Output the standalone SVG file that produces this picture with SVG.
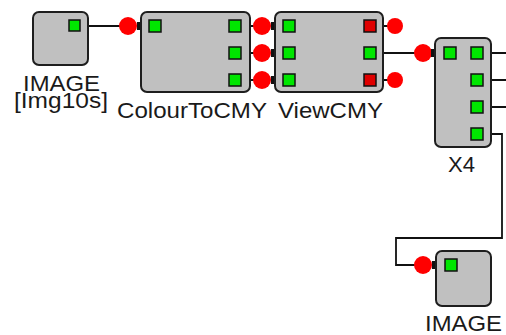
<svg xmlns="http://www.w3.org/2000/svg" width="506" height="335" viewBox="0 0 506 335">
<style>
.box{fill:#c0c0c0;stroke:#1e1e1e;stroke-width:2}
.pg{fill:#00e600;stroke:#111;stroke-width:1.5}
.pr{fill:#e00000;stroke:#111;stroke-width:1.5}
.dot{fill:#ff0000}
.tab{fill:#111}
.wire{fill:none;stroke:#111;stroke-width:1.8}
.lbl{font-family:"Liberation Sans",Arial,sans-serif;font-size:22px;fill:#1a1a1a}
</style>
<rect width="506" height="335" fill="#ffffff"/>
<g id="connectors">
<path class="wire" d="M88,26 H128"/>
<path class="wire" d="M250,26 H262 M250,53 H262 M250,80 H262"/>
<path class="wire" d="M383,26 H395 M383,80 H395"/>
<path class="wire" d="M383,53 H423"/>
<path class="wire" d="M491,53 H506 M491,80 H506 M491,107 H506"/>
<path class="wire" d="M491,134 H502 V238 H396 V265 H423"/>
<circle class="dot" cx="128" cy="26" r="9"/>
<circle class="dot" cx="262" cy="26" r="9"/>
<circle class="dot" cx="262" cy="53" r="9"/>
<circle class="dot" cx="262" cy="80" r="9"/>
<circle class="dot" cx="395" cy="26" r="8"/>
<circle class="dot" cx="395" cy="80" r="8"/>
<circle class="dot" cx="423" cy="53" r="9"/>
<circle class="dot" cx="423" cy="265" r="9"/>
<rect class="tab" x="137" y="22" width="4" height="8"/>
<rect class="tab" x="271" y="49" width="4" height="8"/>
<rect class="tab" x="271" y="22" width="4" height="8"/>
<rect class="tab" x="271" y="76" width="4" height="8"/>
<rect class="tab" x="431" y="49" width="4" height="8"/>
<rect class="tab" x="432" y="261" width="4" height="8"/>
</g>
<g id="image1">
<rect class="box" x="33" y="12" width="55" height="53" rx="6"/>
<rect class="pg" x="69" y="20" width="11" height="11"/>
<text class="lbl" x="23" y="91" textLength="77" lengthAdjust="spacingAndGlyphs">IMAGE</text>
<text class="lbl" x="14" y="108" textLength="94" lengthAdjust="spacingAndGlyphs">[Img10s]</text>
</g>
<g id="colourtocmy">
<rect class="box" x="141" y="12" width="109" height="80" rx="6"/>
<rect class="pg" x="149" y="20" width="12" height="12"/>
<rect class="pg" x="229" y="20" width="12" height="12"/>
<rect class="pg" x="229" y="47" width="12" height="12"/>
<rect class="pg" x="229" y="74" width="12" height="12"/>
<text class="lbl" x="117" y="118" textLength="150" lengthAdjust="spacingAndGlyphs">ColourToCMY</text>
</g>
<g id="viewcmy">
<rect class="box" x="275" y="12" width="108" height="80" rx="6"/>
<rect class="pg" x="283" y="20" width="12" height="12"/>
<rect class="pg" x="283" y="47" width="12" height="12"/>
<rect class="pg" x="283" y="74" width="12" height="12"/>
<rect class="pr" x="364" y="20" width="12" height="12"/>
<rect class="pg" x="364" y="47" width="12" height="12"/>
<rect class="pr" x="364" y="74" width="12" height="12"/>
<text class="lbl" x="278" y="118" textLength="105" lengthAdjust="spacingAndGlyphs">ViewCMY</text>
</g>
<g id="x4">
<rect class="box" x="435" y="38" width="56" height="109" rx="6"/>
<rect class="pg" x="444" y="47" width="12" height="12"/>
<rect class="pg" x="471" y="47" width="12" height="12"/>
<rect class="pg" x="471" y="74" width="12" height="12"/>
<rect class="pg" x="471" y="101" width="12" height="12"/>
<rect class="pg" x="471" y="128" width="12" height="12"/>
<text class="lbl" x="448" y="172" textLength="27" lengthAdjust="spacingAndGlyphs">X4</text>
</g>
<g id="image2">
<rect class="box" x="436" y="251" width="55" height="55" rx="6"/>
<rect class="pg" x="445" y="259" width="12" height="12"/>
<text class="lbl" x="425" y="331" textLength="77" lengthAdjust="spacingAndGlyphs">IMAGE</text>
</g>
</svg>
